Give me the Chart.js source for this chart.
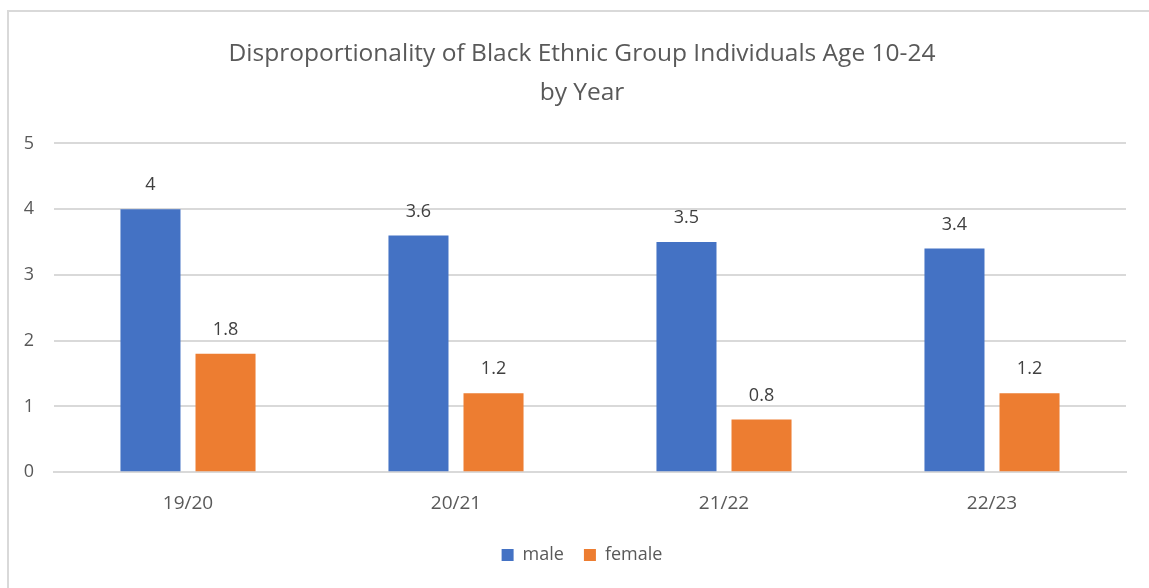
<!DOCTYPE html>
<html>
<head>
<meta charset="utf-8">
<script src="https://cdn.jsdelivr.net/npm/chart.js@4"></script>
<style>
  body { margin: 0; background: #fff; }
  #wrap { position: relative; width: 1149px; height: 588px; overflow: hidden; }
  #frame { position: absolute; left: 7px; top: 10px; width: 1200px; height: 640px; border: 2px solid #d9d9d9; pointer-events: none; }
</style>
</head>
<body>
<div id="wrap">
  <canvas id="chart" width="1149" height="588"></canvas>
  <div id="frame"></div>
</div>
<script>
// Chart data
const years = ["19/20", "20/21", "21/22", "22/23"];
const maleValues = [4, 3.6, 3.5, 3.4];
const femaleValues = [1.8, 1.2, 0.8, 1.2];
const titleLines = ["Disproportionality of Black Ethnic Group Individuals Age 10-24", "by Year"];

const fontFamily = "'Open Sans', 'Noto Sans', sans-serif";
const textColor = "#595959";

// Simple plugin to write the value above each bar
const barValueLabels = {
  id: "barValueLabels",
  afterDatasetsDraw(chart) {
    const ctx = chart.ctx;
    ctx.save();
    ctx.font = "18px " + fontFamily;
    ctx.fillStyle = "#404040";
    ctx.textAlign = "center";
    ctx.textBaseline = "bottom";
    chart.data.datasets.forEach((dataset, i) => {
      const meta = chart.getDatasetMeta(i);
      meta.data.forEach((bar, j) => {
        ctx.fillText(String(dataset.data[j]), bar.x, bar.y - 15);
      });
    });
    ctx.restore();
  },
};

new Chart(document.getElementById("chart"), {
  type: "bar",
  data: {
    labels: years,
    datasets: [
      {
        label: "male",
        data: maleValues,
        backgroundColor: "#4472C4",
        categoryPercentage: 0.56,
        barPercentage: 0.8,
      },
      {
        label: "female",
        data: femaleValues,
        backgroundColor: "#ED7D31",
        categoryPercentage: 0.56,
        barPercentage: 0.8,
      },
    ],
  },
  options: {
    responsive: false,
    animation: false,
    // the frame is wider than the picture, so title and legend sit a bit right of centre
    layout: { padding: { left: 18, right: 3, top: 0, bottom: 14 } },
    scales: {
      x: {
        grid: { display: false },
        border: { color: "#d9d9d9", width: 2 },
        ticks: { color: textColor, font: { family: fontFamily, size: 19 }, padding: 11.5 },
      },
      y: {
        min: 0,
        max: 5,
        afterFit(scale) { scale.width = 36; },
        border: { display: false },
        grid: { color: "#d9d9d9", lineWidth: 2, drawTicks: false },
        ticks: { stepSize: 1, color: textColor, font: { family: fontFamily, size: 18 }, padding: 20 },
      },
      // empty spacer on the right side
      yRight: {
        position: "right",
        min: 0,
        max: 5,
        afterFit(scale) { scale.width = 20; },
        border: { display: false },
        grid: { display: false },
        ticks: { display: false },
      },
    },
    plugins: {
      title: {
        display: true,
        text: titleLines,
        color: textColor,
        font: { family: fontFamily, size: 24.5, weight: "normal", lineHeight: 1.6 },
        padding: { top: 34, bottom: 31 },
      },
      legend: {
        position: "bottom",
        labels: {
          color: textColor,
          font: { family: fontFamily, size: 18 },
          boxWidth: 12,
          boxHeight: 12,
          padding: 20,
        },
      },
      tooltip: { enabled: false },
    },
  },
  plugins: [barValueLabels],
});
</script>
</body>
</html>
